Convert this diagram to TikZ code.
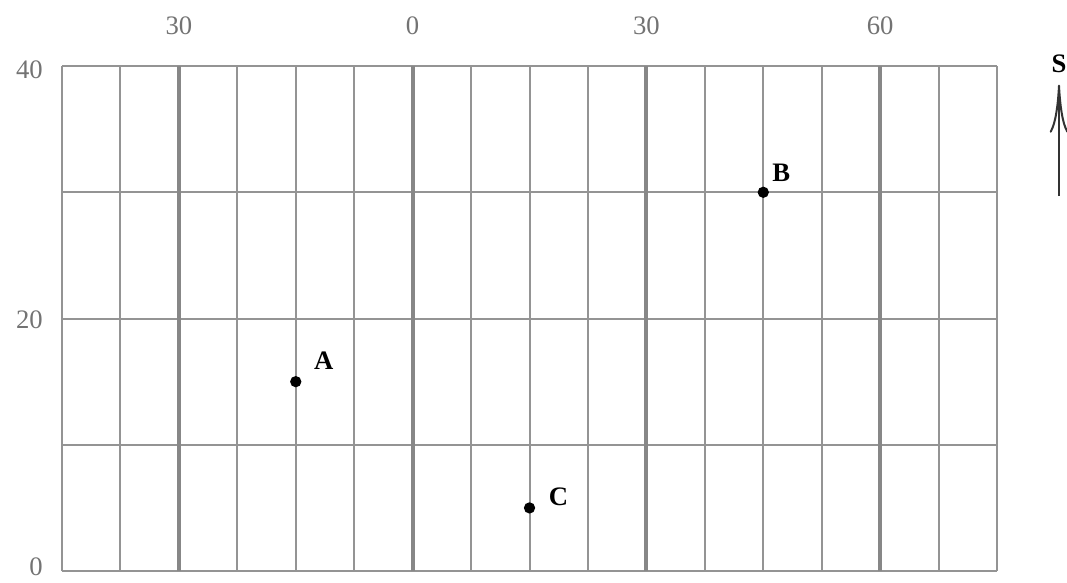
\documentclass[tikz,border=0pt]{standalone}
\usepackage{fontspec}
\setmainfont{Liberation Serif}
\usetikzlibrary{arrows.meta}

\begin{document}
\begin{tikzpicture}[
  x=43.83pt, y=94.69pt,
  minor/.style={draw=black!42, line width=1.5pt},
  major/.style={draw=black!47, line width=3pt},
  tick/.style={font=\fontsize{20}{24}\selectfont, text=black!55, inner sep=0pt},
  spot/.style={circle, fill=black, inner sep=0pt, minimum size=8.5pt},
  lbl/.style={font=\fontsize{20}{24}\selectfont\bfseries, inner sep=0pt},
  pointer/.style={-{Computer Modern Rightarrow[length=36pt,width=14pt]},
                  line width=1.5pt, black!80}
]
\useasboundingbox (-1.061,-0.0871) rectangle (17.197,4.523);

% grid
\foreach \c in {0,...,16}
  \draw[minor] (\c,0) -- (\c,4);
\foreach \r in {0,...,4}
  \draw[minor] (0,\r) -- (16,\r);
\foreach \c in {2,6,10,14}
  \draw[major] (\c,0) -- (\c,4);

\foreach \c/\t in {2/30,6/0,10/30,14/60}
  \node[tick] (top\c) at (\c,4.32) {\t};
\foreach \r/\t/\s in {0/0/3.5pt,2/20/-1pt,4/40/-3pt}
  \node[tick, anchor=east, yshift=\s] (side\t) at (-0.325,\r) {\t};

\node[spot] (A) at (4,1.5) {};
\node[spot] (B) at (12,3) {};
\node[spot] (C) at (8,0.5) {};
\node[lbl] (labA) at ([shift={(21pt,15.5pt)}]A) {A};
\node[lbl] (labB) at ([shift={(13.5pt,14.25pt)}]B) {B};
\node[lbl] (labC) at ([shift={(21.75pt,8.25pt)}]C) {C};

% pointer
\coordinate (foot) at (17.06,2.97);
\node[lbl] (S) at (17.06,4.02) {S};
\draw[pointer, shorten >=9pt] (foot) -- (S);

\end{tikzpicture}
\end{document}
